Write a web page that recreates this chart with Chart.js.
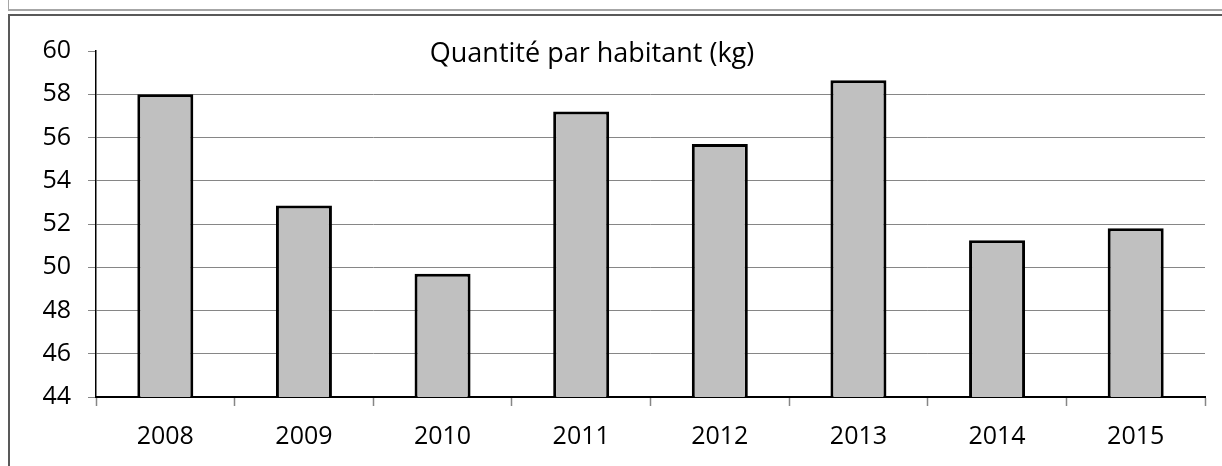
<!DOCTYPE html>
<html>
<head>
<meta charset="utf-8">
<script src="https://cdn.jsdelivr.net/npm/chart.js@4/dist/chart.umd.min.js"></script>
<style>
  html, body { margin: 0; padding: 0; background: #fff; }
  #wrap { position: relative; width: 1222px; height: 466px; overflow: hidden; }
  canvas { position: absolute; left: 0; top: 0; }
  .ln { position: absolute; pointer-events: none; }
</style>
</head>
<body>
<div id="wrap">
  <canvas id="c" width="1222" height="466"></canvas>
  <div class="ln" style="left:8px;top:0;width:1px;height:10px;background:#a6a6a6"></div>
  <div class="ln" style="left:8px;top:9px;width:1214px;height:2px;background:#a6a6a6"></div>
  <div class="ln" style="left:8px;top:14px;width:1214px;height:2px;background:#595959"></div>
  <div class="ln" style="left:8px;top:14px;width:2px;height:452px;background:#595959"></div>
</div>
<script>
const categories = ['2008', '2009', '2010', '2011', '2012', '2013', '2014', '2015'];
const quantiteParHabitant = [58.0, 52.85, 49.7, 57.2, 55.7, 58.65, 51.25, 51.8];
const chartTitle = 'Quantité par habitant (kg)';
const yMin = 44, yMax = 60, yStep = 2;

const FONT = "'Open Sans', 'Noto Sans', sans-serif";

const titlePlugin = {
  id: 'innerTitle',
  afterDraw(chart) {
    const ctx = chart.ctx;
    ctx.save();
    ctx.font = '27px ' + FONT;
    ctx.fillStyle = '#000';
    ctx.textAlign = 'center';
    ctx.textBaseline = 'alphabetic';
    ctx.fillText(chartTitle, 592, 62);
    ctx.restore();
  }
};

function build() {
  new Chart(document.getElementById('c'), {
    type: 'bar',
    data: {
      labels: categories,
      datasets: [{
        data: quantiteParHabitant,
        backgroundColor: '#c0c0c0',
        borderColor: '#000000',
        borderWidth: 3,
        borderSkipped: false,
        categoryPercentage: 1,
        barPercentage: 0.404
      }]
    },
    options: {
      responsive: false,
      animation: false,
      events: [],
      layout: { padding: { top: 51, right: 17, left: 0, bottom: 0 } },
      plugins: { legend: { display: false }, title: { display: false }, tooltip: { enabled: false } },
      scales: {
        x: {
          offset: true,
          grid: {
            display: true,
            drawOnChartArea: false,
            drawTicks: true,
            tickLength: 9,
            tickColor: '#868686',
            tickWidth: 1.5,
            offset: true
          },
          border: { display: true, color: '#000', width: 2 },
          ticks: {
            color: '#000',
            font: { family: FONT, size: 25 },
            padding: 16,
            maxRotation: 0
          },
          afterFit(scale) { scale.height = 69; }
        },
        y: {
          min: yMin,
          max: yMax,
          ticks: {
            stepSize: yStep,
            color: '#000',
            font: { family: FONT, size: 25 },
            padding: 17
          },
          grid: {
            color: (ctx) => (ctx.tick && ctx.tick.value === yMax) ? 'rgba(0,0,0,0)' : '#868686',
            lineWidth: 1,
            tickColor: '#868686',
            tickLength: 8,
            drawTicks: true
          },
          border: { display: true, color: '#000', width: 1.5 },
          afterFit(scale) { scale.width = 96; }
        }
      }
    },
    plugins: [titlePlugin]
  });
}

if (document.fonts && document.fonts.load) {
  Promise.all([
    document.fonts.load("25px 'Open Sans'"),
    document.fonts.load("27px 'Open Sans'")
  ]).then(build, build);
} else {
  build();
}
</script>
</body>
</html>
